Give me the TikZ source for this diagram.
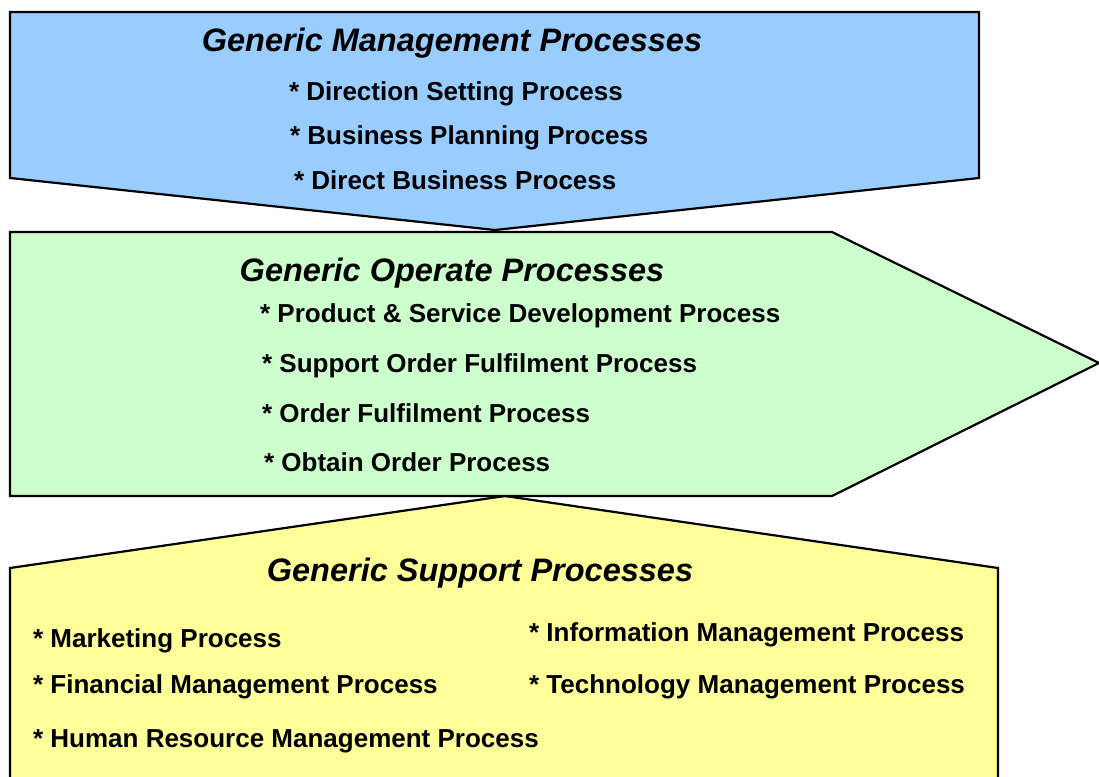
\documentclass[tikz,border=0pt]{standalone}
\usepackage{fontspec}
\setmainfont{Liberation Sans}
\usetikzlibrary{calc}

\definecolor{mgmtblue}{HTML}{99CCFF}
\definecolor{opergreen}{HTML}{CCFFCC}
\definecolor{suppyellow}{HTML}{FFFF99}

\begin{document}
\begin{tikzpicture}[x=1pt, y=-1pt, line width=2.2pt, line join=miter,
    heading/.style={inner sep=0pt, yshift=-3pt, font=\fontsize{32.5}{38}\selectfont\bfseries\itshape},
    item/.style={anchor=base west, inner sep=0pt, yshift=-9.3pt, font=\fontsize{26}{30}\selectfont\bfseries}]%
  \useasboundingbox (0, 0) rectangle (1099, 776);
  % the three process blocks
  \filldraw[fill=suppyellow] (505, 496) -- (998, 568) -- (998, 800) -- (10, 800) -- (10, 568) -- cycle;
  \filldraw[fill=opergreen] (10, 232) -- (832, 232) -- (1099, 363) -- (832, 496) -- (10, 496) -- cycle;
  \filldraw[fill=mgmtblue] (10, 12) -- (979, 12) -- (979, 178) -- (495, 230) -- (10, 178) -- cycle;
  \begin{scope}
    \node[heading] (mgmt) at (452, 40) {Generic Management Processes};
    \foreach \x/\y/\name/\txt in {288/91/dirset/Direction Setting Process,
      289/135/busplan/Business Planning Process,
      293/180/dirbus/Direct Business Process} {
      \node[item] (\name) at (\x, \y) {* \txt};
    }
  \end{scope}
  \begin{scope}
    \node[heading] (oper) at (452, 270) {Generic Operate Processes};
    \foreach \x/\y/\name/\txt in {259/313/prodsvc/Product \& Service Development Process,
      261/363/suporder/Support Order Fulfilment Process,
      261/413/orderful/Order Fulfilment Process,
      263/462/obtain/Obtain Order Process} {
      \node[item] (\name) at (\x, \y) {* \txt};
    }
  \end{scope}
  \begin{scope}
    \node[heading] (supp) at (480, 570) {Generic Support Processes};
    \foreach \x/\y/\name/\txt in {32/638/mkt/Marketing Process,
      32/684/fin/Financial Management Process,
      32/738/hr/Human Resource Management Process,
      528/632/info/Information Management Process,
      528/684/tech/Technology Management Process} {
      \node[item] (\name) at (\x, \y) {* \txt};
    }
  \end{scope}
\end{tikzpicture}
\end{document}
